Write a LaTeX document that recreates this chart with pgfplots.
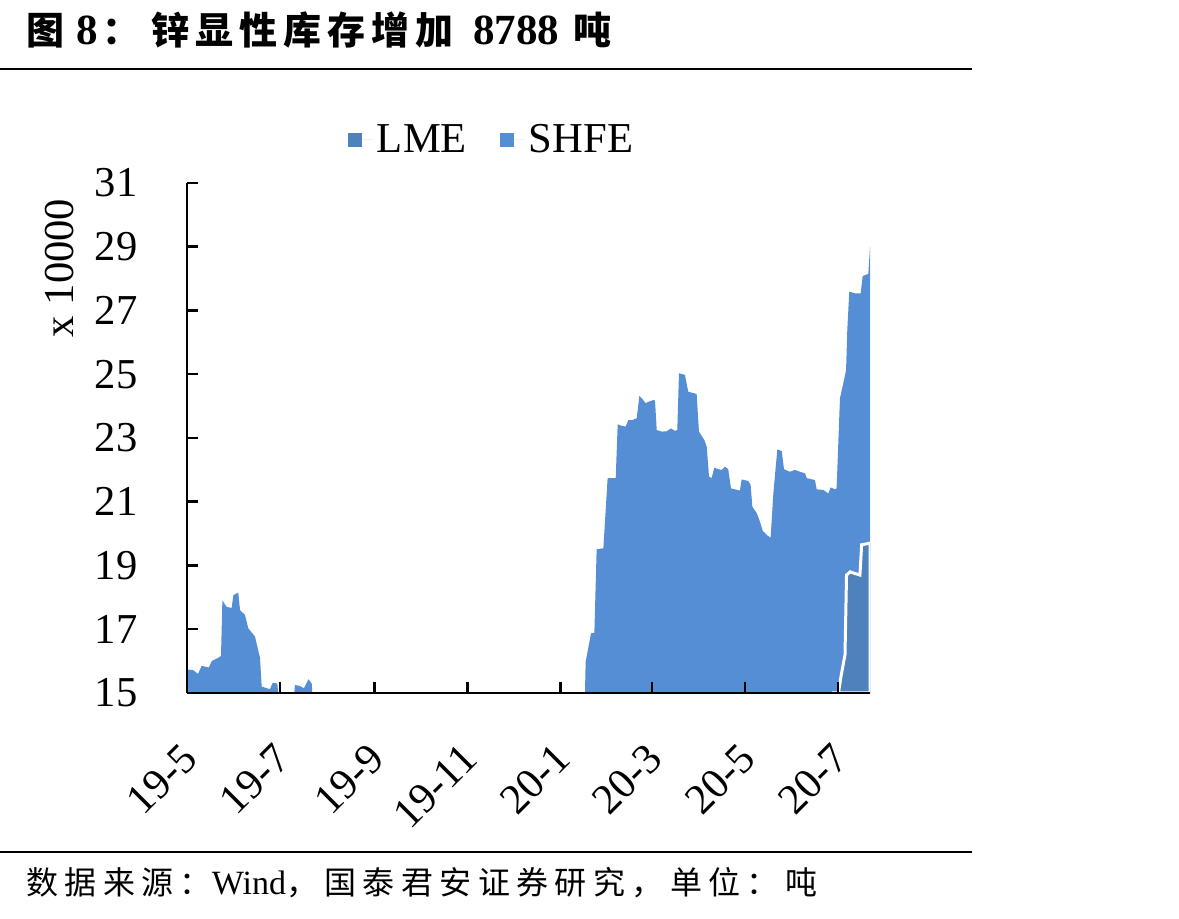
\documentclass[border=0pt]{standalone}
\usepackage{fontspec}
\setmainfont{Liberation Serif}
\newfontfamily\cjk{Noto Sans CJK SC}
\newfontfamily\cjktitle{Noto Sans CJK SC}[LetterSpace=16]
\newfontfamily\cjkfoot{Noto Sans CJK SC}[LetterSpace=20]
\usepackage{pgfplots}
\pgfplotsset{compat=1.18}

\definecolor{lmeblue}{HTML}{4F81BD}
\definecolor{shfeblue}{HTML}{558ED5}
\newcommand\axfont{\fontsize{21.3}{25}\selectfont}

\begin{document}
\begin{tikzpicture}
\path[use as bounding box] (0,0) rectangle (589.5pt,459.5pt);

% title
\node[anchor=base west, inner sep=0pt] at (13pt,437pt) {\cjk\bfseries\fontsize{19}{22}\selectfont 图};
\node[anchor=base west, inner sep=0pt] at (38pt,437pt) {\bfseries\fontsize{21.5}{24}\selectfont 8};
\node[anchor=base west, inner sep=0pt] at (51pt,437pt) {\cjk\bfseries\fontsize{19}{22}\selectfont ：};
\node[anchor=base west, inner sep=0pt] at (75.5pt,437pt) {\cjktitle\bfseries\fontsize{19}{22}\selectfont 锌显性库存增加};
\node[anchor=base west, inner sep=0pt] at (236.5pt,437pt) {\bfseries\fontsize{21.5}{24}\selectfont 8788};
\node[anchor=base west, inner sep=0pt] at (286.5pt,437pt) {\cjk\bfseries\fontsize{19}{22}\selectfont 吨};
\draw[line width=1pt] (0,425pt) -- (486pt,425pt);

% source line
\draw[line width=1pt] (0,33.5pt) -- (486pt,33.5pt);
\node[anchor=base west, inner sep=0pt] at (13pt,12pt)
  {\cjkfoot\fontsize{16}{19}\selectfont 数据来源：{\rmfamily\fontsize{17}{19}\selectfont Wind}，国泰君安证券研究，单位：吨};

% y axis unit
\node[rotate=90, inner sep=0pt, font=\axfont] at (30pt,325.5pt) {x 10000};

\begin{axis}[
  at={(93.5pt,113pt)}, anchor=south west,
  scale only axis, width=341.5pt, height=255pt,
  xmin=0, xmax=448, ymin=15, ymax=31,
  ytick={15,17,...,31},
  xtick={0,61,123,184,245,305,366,427},
  xticklabels={19-5,19-7,19-9,19-11,20-1,20-3,20-5,20-7},
  axis lines*=left,
  axis line style={line width=1.25pt, black},
  every tick/.style={line width=1.25pt, black},
  tick align=inside, major tick length=5.5pt,
  axis on top,
  tick label style={font=\axfont},
  /pgf/number format/assume math mode=true,
  yticklabel style={inner sep=0pt, anchor=east},
  yticklabel shift=24.5pt,
  xticklabel style={inner sep=0pt, rotate=45, anchor=north east, xshift=-5.5pt},
  xticklabel shift=20pt,
  legend columns=2,
  legend style={draw=none, fill=none, inner sep=0pt, outer sep=0pt,
    font=\axfont, at={(axis description cs:0.2357,1.0843)}, anchor=west,
    /tikz/every even column/.append style={column sep=14.5pt}},
  legend image code/.code={\fill[#1] (0pt,-3.5pt) rectangle (7pt,3.5pt);
    \path (0pt,0pt) -- (12.5pt,0pt);},
]
\addlegendimage{fill=lmeblue, draw=none}
\addlegendentry{LME}
\addlegendimage{fill=shfeblue, draw=none}
\addlegendentry{SHFE}

% LME + SHFE stacked top (days since 2019-05-01, x 10000 t)
\addplot[fill=shfeblue, draw=none, forget plot] table[x=d, y=v] {
d v
0 15.74
3.9 15.72
7.2 15.60
9.6 15.85
14.4 15.80
16.2 16.00
20.3 16.10
22.3 16.16
23.2 17.90
26.0 17.70
29.3 17.67
30.4 18.07
33.6 18.15
34.8 17.60
38.0 17.45
40.2 17.03
44.6 16.77
47.9 16.10
49.0 15.20
54.4 15.12
56.2 15.32
59.2 15.30
61.0 14.50
69.5 14.50
70.8 15.25
74.1 15.22
76.7 15.15
79.6 15.43
81.8 15.30
82.8 14.50
260.8 14.50
261.5 15.98
265.0 16.87
267.2 16.89
268.7 19.51
273.1 19.54
275.9 21.74
281.2 21.74
282.5 23.43
285.1 23.38
287.7 23.36
289.5 23.56
292.1 23.56
295.0 23.62
296.7 24.32
298.2 24.25
300.9 24.09
303.0 24.14
305.9 24.19
307.0 24.17
308.1 23.25
311.4 23.20
314.6 23.21
317.5 23.30
320.1 23.22
321.6 23.25
322.7 25.03
326.6 24.98
328.8 24.45
334.3 24.38
335.8 23.20
339.3 22.94
340.9 22.73
342.4 21.79
344.1 21.74
345.9 22.07
348.5 22.02
350.7 22.00
352.9 22.10
355.0 22.02
356.8 21.42
362.7 21.35
363.8 21.70
368.2 21.65
369.7 21.53
370.8 20.85
373.7 20.64
375.8 20.38
377.6 20.09
380.2 19.96
382.8 19.87
384.6 21.26
387.2 22.64
390.1 22.59
391.6 22.02
395.5 21.94
398.8 22.00
402.1 21.94
405.4 21.89
406.5 21.74
411.9 21.68
413.0 21.39
417.4 21.37
420.6 21.26
422.2 21.45
425.0 21.39
426.1 21.42
428.3 24.25
430.5 24.72
432.3 25.13
433.1 26.39
434.4 27.59
438.2 27.54
441.9 27.54
443.2 28.08
446.9 28.15
448.0 29.00
} \closedcycle;

% LME layer
\addplot[fill=lmeblue, draw=white, line width=1.5pt, forget plot] table[x=d, y=v] {
d v
424.0 14.30
427.3 15.00
428.9 15.50
431.6 16.20
432.6 18.70
435.0 18.80
441.4 18.70
442.5 19.65
448.0 19.70
} \closedcycle;
\end{axis}
\end{tikzpicture}
\end{document}
